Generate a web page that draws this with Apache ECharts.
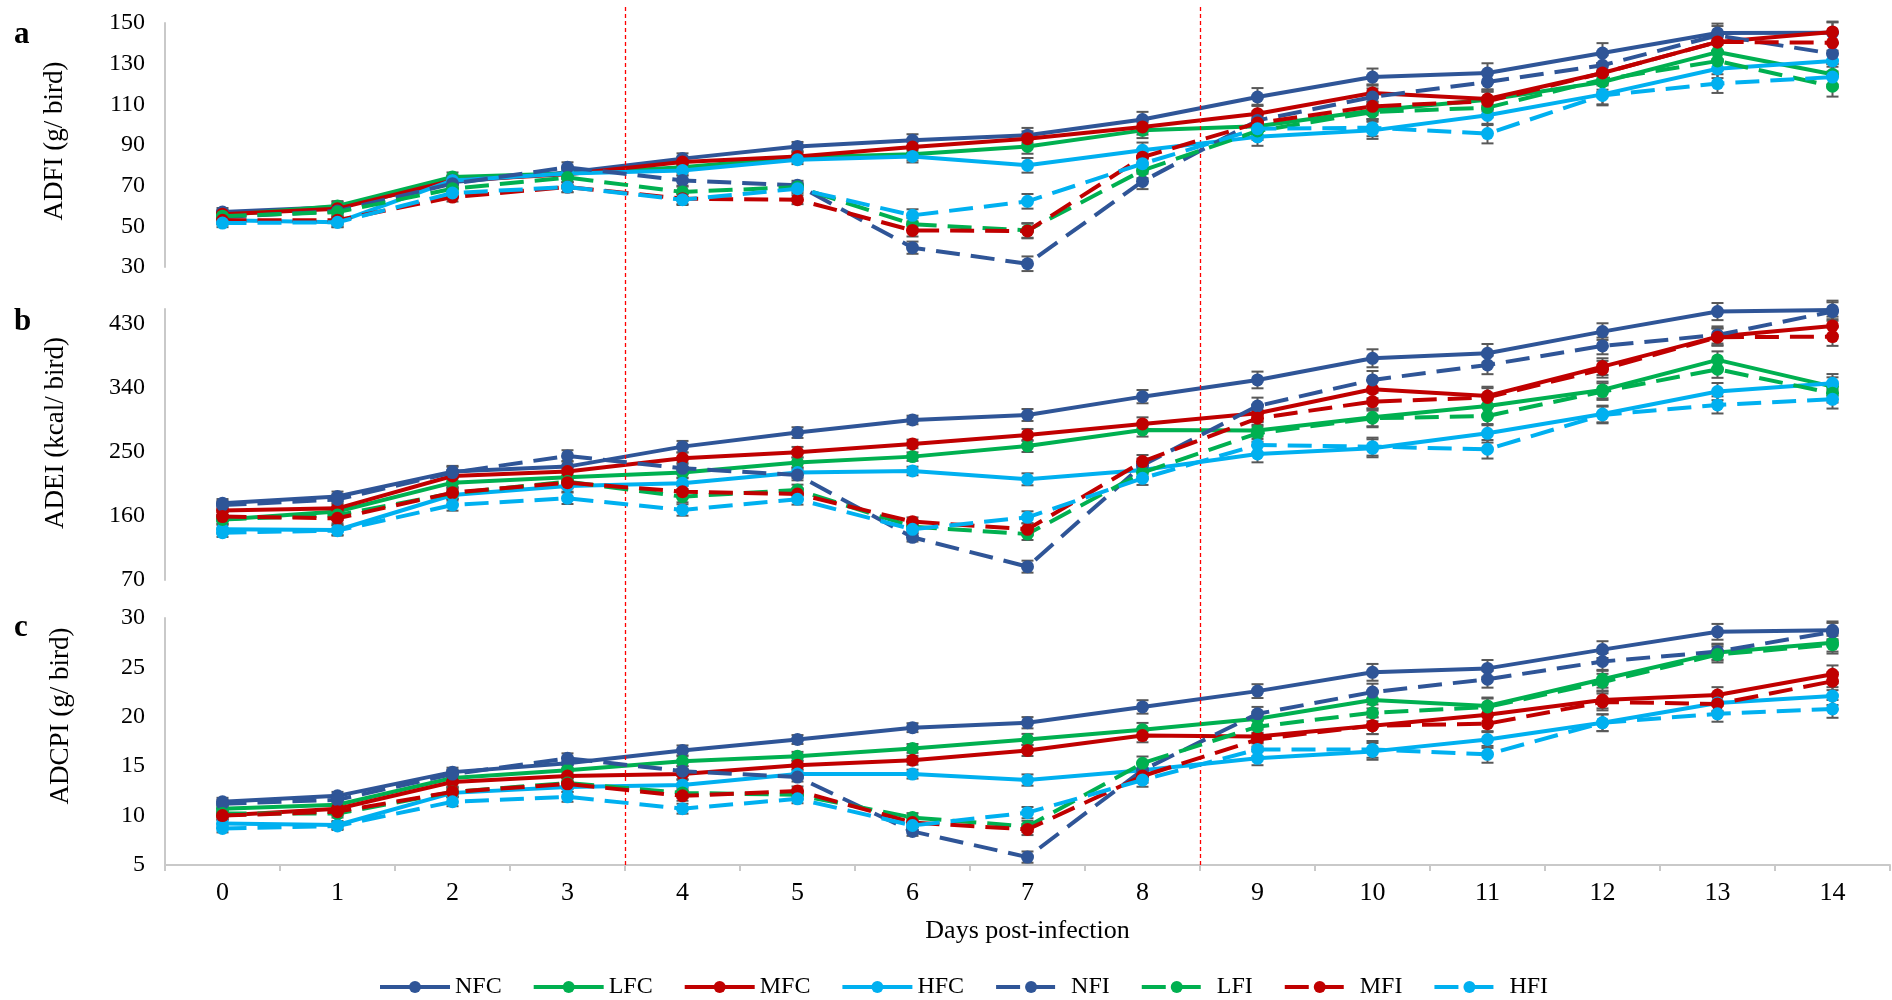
<!DOCTYPE html>
<html>
<head>
<meta charset="utf-8">
<script src="https://cdn.jsdelivr.net/npm/echarts@6/dist/echarts.min.js"></script>
<style>
  html, body { margin: 0; padding: 0; background: #ffffff; }
  #chart { width: 1892px; height: 1000px; }
</style>
</head>
<body>
<div id="chart"></div>
<script>
// Days post-infection
const days = ['0','1','2','3','4','5','6','7','8','9','10','11','12','13','14'];
const groups = ['NFC','LFC','MFC','HFC','NFI','LFI','MFI','HFI'];

// (a) ADFI, g/bird
const adfiNFC = [57, 59.5, 71.8, 76.5, 83.3, 89.3, 92.3, 94.8, 102.5, 113.6, 123.4, 125.4, 135.2, 145.1, 145.2];
const adfiLFC = [55.4, 60, 74.3, 76, 79, 84, 85.4, 89.3, 97.2, 99.2, 107, 112.3, 121, 135.7, 124.8];
const adfiMFC = [56, 58.7, 72.6, 75.6, 81.6, 84.4, 89, 93.1, 98.9, 105.4, 115.6, 112.6, 125.4, 140.7, 145.6];
const adfiHFC = [53, 52, 72.6, 76, 77.5, 82.8, 84.4, 80, 87.4, 94, 97.2, 104.6, 114.9, 127.5, 131.3];
const adfiNFI = [54.6, 57.5, 71, 79, 72.6, 70.2, 39.5, 31.6, 72.1, 102.1, 113.6, 121, 129.2, 143.9, 134.9];
const adfiLFI = [55, 57, 68.5, 74, 66.9, 69.3, 51, 48, 77.5, 96.9, 106.2, 108.4, 122.1, 131.3, 118.9];
const adfiMFI = [53, 53, 64.4, 69.3, 63.6, 63.1, 48, 47.7, 84, 100.8, 109, 111.5, 125.4, 140.7, 140.3];
const adfiHFI = [51.6, 52, 66.4, 69.3, 63.1, 68.5, 55.4, 62.3, 80.8, 98, 98.5, 95.6, 114.4, 120.2, 123.4];
const adfiSEM = [2, 2.4, 2.2, 2.5, 2.6, 2.2, 3, 3.6, 3.8, 4.4, 4.2, 4.8, 4.9, 4.6, 5.1];

// (b) ADEI, kcal/bird
const adeiNFC = [177.5, 187, 222, 229, 257, 276.7, 294.4, 301.4, 327.1, 350.5, 380.9, 387.9, 418.3, 446.4, 448.7];
const adeiLFC = [155, 166, 206.5, 214, 220.6, 234.6, 243, 257.9, 280.4, 279.5, 298.2, 314, 336.5, 378.6, 341.2];
const adeiMFC = [167.3, 170.5, 215.9, 222, 240.7, 249.1, 260.8, 273.4, 288.8, 303.8, 337.4, 328, 369.2, 411.3, 426.3];
const adeiHFC = [141, 140.1, 189.2, 201.9, 205.6, 220.6, 222.9, 211.2, 224.3, 246.7, 254.7, 275.7, 302.8, 334.2, 345.8];
const adeiNFI = [175, 183, 220.6, 244, 226.6, 217.3, 129.9, 88.7, 231, 314, 350.5, 371.6, 398.2, 413.6, 446.4];
const adeiLFI = [155, 161, 191.6, 208, 186.9, 196.2, 144.8, 134.5, 220.6, 275.7, 296.8, 300, 334.2, 365.5, 331.8];
const adeiMFI = [159, 156.5, 192.5, 206.5, 193.9, 190.6, 151.8, 141.1, 236, 296.8, 320.1, 326, 365.5, 410.4, 411.3];
const adeiHFI = [136.4, 139.2, 175.2, 184.6, 168.2, 183.2, 141.1, 157.9, 212.6, 259.4, 257, 253.3, 301.4, 315.5, 323.4];
const adeiSEM = [6, 7, 8, 8, 8, 7.5, 6, 8.4, 9.3, 11.7, 12.6, 13, 11.7, 12, 13];

// (c) ADCPI, g/bird
const adcpiNFC = [11.4, 12.0, 14.4, 15.3, 16.6, 17.7, 18.9, 19.4, 21.0, 22.6, 24.5, 24.9, 26.8, 28.6, 28.75];
const adcpiLFC = [10.7, 11.1, 13.8, 14.6, 15.5, 16.0, 16.8, 17.7, 18.7, 19.8, 21.7, 21.1, 23.8, 26.5, 27.5];
const adcpiMFC = [10.0, 10.7, 13.4, 14.0, 14.2, 15.1, 15.6, 16.6, 18.1, 18.0, 19.1, 20.2, 21.7, 22.2, 24.3];
const adcpiHFC = [9.2, 9.05, 12.3, 12.9, 13.1, 14.2, 14.2, 13.6, 14.6, 15.8, 16.5, 17.7, 19.4, 21.4, 22.1];
const adcpiNFI = [11.2, 11.6, 14.2, 15.8, 14.5, 13.9, 8.4, 5.8, 14.6, 20.3, 22.5, 23.8, 25.6, 26.6, 28.6];
const adcpiLFI = [10.2, 10.2, 12.4, 13.3, 12.3, 12.1, 9.8, 8.9, 15.3, 19.0, 20.4, 21.0, 23.5, 26.3, 27.3];
const adcpiMFI = [10.0, 10.4, 12.4, 13.2, 12.0, 12.5, 9.3, 8.6, 14.0, 17.7, 19.1, 19.3, 21.5, 21.3, 23.6];
const adcpiHFI = [8.7, 8.95, 11.4, 11.9, 10.7, 11.7, 9.0, 10.3, 13.6, 16.7, 16.7, 16.2, 19.4, 20.3, 20.8];
const adcpiSEM = [0.4, 0.4, 0.45, 0.5, 0.5, 0.45, 0.45, 0.57, 0.68, 0.7, 0.85, 0.85, 0.85, 0.8, 0.9];

// Infection-period boundaries (between days)
const phaseBounds = [3.5, 8.5];

const panels = [
  { letter: 'a', name: 'ADFI (g/ bird)', min: 30, max: 150, interval: 20, sem: adfiSEM,
    data: [adfiNFC, adfiLFC, adfiMFC, adfiHFC, adfiNFI, adfiLFI, adfiMFI, adfiHFI] },
  { letter: 'b', name: 'ADEI (kcal/ bird)', min: 70, max: 450, interval: 90, sem: adeiSEM,
    data: [adeiNFC, adeiLFC, adeiMFC, adeiHFC, adeiNFI, adeiLFI, adeiMFI, adeiHFI] },
  { letter: 'c', name: 'ADCPI (g/ bird)', min: 5, max: 30, interval: 5, sem: adcpiSEM,
    data: [adcpiNFC, adcpiLFC, adcpiMFC, adcpiHFC, adcpiNFI, adcpiLFI, adcpiMFI, adcpiHFI] }
];

const colors = { N: '#2F5597', L: '#00B050', M: '#C00000', H: '#00B0F0' };
const serif = '"Liberation Serif", "Times New Roman", serif';
const axisGrey = '#C9C9C9';

const grids = [
  { left: 165, right: 2, top: 23, height: 244 },
  { left: 165, right: 2, top: 309, height: 271 },
  { left: 165, right: 2, top: 618, height: 247 },
  { left: 165, right: 2, top: 4, height: 861 }   // overlay for the phase lines
];

const xAxes = panels.map((p, i) => ({
  type: 'category',
  gridIndex: i,
  data: days,
  boundaryGap: true,
  axisLine: { show: i === 2, lineStyle: { color: axisGrey, width: 2 } },
  axisTick: { show: i === 2, length: 6, lineStyle: { color: axisGrey, width: 2 } },
  axisLabel: { show: i === 2, color: '#000', fontFamily: serif, fontSize: 26, margin: 15 },
  name: i === 2 ? 'Days post-infection' : '',
  nameLocation: 'middle',
  nameGap: 53,
  nameTextStyle: { color: '#000', fontFamily: serif, fontSize: 26 },
  splitLine: { show: false }
}));
xAxes.push({ type: 'value', gridIndex: 3, min: -0.5, max: 14.5, show: false });

const yAxes = panels.map((p, i) => ({
  type: 'value',
  gridIndex: i,
  min: p.min, max: p.max, interval: p.interval,
  axisLine: { show: true, lineStyle: { color: axisGrey, width: 2 } },
  axisTick: { show: false },
  splitLine: { show: false },
  axisLabel: { color: '#000', fontFamily: serif, fontSize: 24, margin: 20, showMaxLabel: p.max % p.interval === p.min % p.interval }
}));
yAxes.push({ type: 'value', gridIndex: 3, min: 0, max: 1, show: false });

const series = [];
panels.forEach((p, i) => {
  // error bars (SEM) for every group on this panel
  const errData = [];
  p.data.forEach(vals => vals.forEach((v, d) => errData.push([d, v, p.sem[d]])));
  series.push({
    type: 'custom',
    xAxisIndex: i, yAxisIndex: i,
    z: 1,
    silent: true,
    data: errData,
    encode: { x: 0, y: 1 },
    renderItem: (params, api) => {
      const x = api.value(0), y = api.value(1), e = api.value(2);
      const hi = api.coord([x, y + e]);
      const lo = api.coord([x, y - e]);
      const st = { stroke: '#595959', lineWidth: 2 };
      return {
        type: 'group',
        children: [
          { type: 'line', shape: { x1: hi[0], y1: hi[1], x2: lo[0], y2: lo[1] }, style: st },
          { type: 'line', shape: { x1: hi[0] - 6, y1: hi[1], x2: hi[0] + 6, y2: hi[1] }, style: st },
          { type: 'line', shape: { x1: lo[0] - 6, y1: lo[1], x2: lo[0] + 6, y2: lo[1] }, style: st }
        ]
      };
    }
  });
  p.data.forEach((vals, g) => {
    const name = groups[g];
    const c = colors[name[0]];
    const infected = name[2] === 'I';
    series.push({
      type: 'line',
      name: name,
      xAxisIndex: i, yAxisIndex: i,
      z: 2 + g,
      data: vals,
      symbol: 'circle',
      symbolSize: 13,
      showSymbol: true,
      lineStyle: { color: c, width: 4, type: infected ? [24, 11] : 'solid' },
      itemStyle: { color: c }
    });
  });
});

// vertical dashed lines marking the infection phases, spanning all panels
series.push({
  type: 'line',
  xAxisIndex: 3, yAxisIndex: 3,
  data: [],
  silent: true,
  markLine: {
    silent: true,
    symbol: ['none', 'none'],
    label: { show: false },
    lineStyle: { color: '#FF0000', width: 1.3, type: [4, 3] },
    data: phaseBounds.map(b => ({ xAxis: b }))
  }
});

// panel letters and rotated y-axis titles
const letterTops = [19, 306, 612];
const titleCentres = [[55, 141], [56, 433], [61, 716]];
const graphics = [];
panels.forEach((p, i) => {
  graphics.push({
    type: 'text',
    left: 14,
    top: letterTops[i],
    style: { text: p.letter, font: 'bold 31px ' + serif, fill: '#000' }
  });
  graphics.push({
    type: 'text',
    x: titleCentres[i][0],
    y: titleCentres[i][1],
    rotation: Math.PI / 2,
    style: { text: p.name, font: '27px ' + serif, fill: '#000', align: 'center', verticalAlign: 'middle' }
  });
});

const chart = echarts.init(document.getElementById('chart'), null, { renderer: 'canvas' });
chart.setOption({
  animation: false,
  backgroundColor: '#ffffff',
  grid: grids,
  xAxis: xAxes,
  yAxis: yAxes,
  legend: {
    data: groups,
    left: 378,
    top: 975,
    padding: 0,
    itemWidth: 70,
    itemHeight: 15,
    itemGap: 30,
    lineStyle: { width: 4 },
    textStyle: { color: '#000', fontFamily: serif, fontSize: 24 }
  },
  graphic: graphics,
  series: series
});
</script>
</body>
</html>
